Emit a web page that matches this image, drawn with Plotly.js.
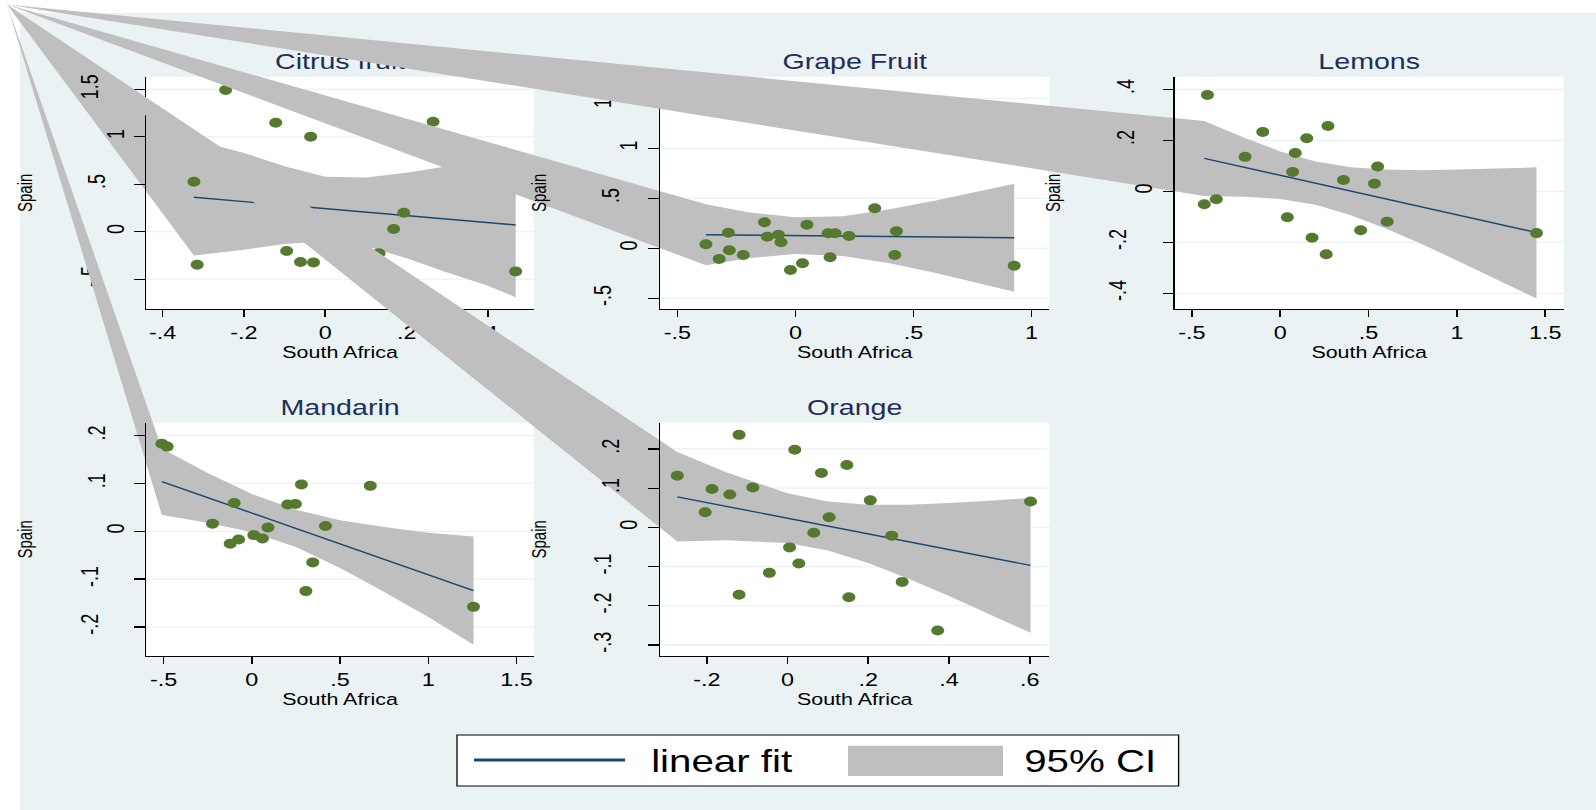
<!DOCTYPE html>
<html>
<head>
<meta charset="utf-8">
<script src="https://cdn.plot.ly/plotly-3.0.1.min.js"></script>
<style>
html,body{margin:0;padding:0;background:#ffffff;overflow:hidden;}
#wrap{width:1596px;height:810px;overflow:hidden;}
#chart{width:1228px;height:810px;transform:scaleX(1.2996743);transform-origin:0 0;}
</style>
</head>
<body>
<div id="wrap"><div id="chart"></div></div>
<script>
// ---------------- data ----------------
const panelNames = ['Citrus fruit', 'Grape Fruit', 'Lemons', 'Mandarin', 'Orange'];
const xTitle = 'South Africa';
const yTitle = 'Spain';
const legendLabels = ['linear fit', '95% CI'];

// Citrus fruit
const citrusX = [-0.245, -0.122, -0.036, 0.265, -0.323, 0.193, 0.168, -0.095, -0.061, -0.029, -0.315, 0.132, 0.468];
const citrusY = [1.493, 1.148, 1.001, 1.159, 0.527, 0.200, 0.028, -0.203, -0.319, -0.323, -0.347, -0.228, -0.418];
const citrusFitX = [-0.323, 0.468];
const citrusFitY = [0.363, 0.071];
const citrusCiX  = [-0.323, -0.2, -0.1, 0, 0.1, 0.2, 0.3, 0.4, 0.468];
const citrusCiUp = [0.97, 0.83, 0.69, 0.58, 0.57, 0.62, 0.69, 0.77, 0.83];
const citrusCiLo = [-0.25, -0.19, -0.13, -0.10, -0.15, -0.28, -0.43, -0.57, -0.69];
const citrusXTicks = [-0.4, -0.2, 0, 0.2, 0.4];
const citrusYTicks = [-0.5, 0, 0.5, 1, 1.5];

// Grape Fruit
const grapeX = [0.336, -0.131, 0.049, -0.284, -0.119, -0.072, -0.061, 0.139, 0.168, 0.227, 0.428, -0.379, -0.28, -0.221, -0.323, -0.021, 0.03, 0.147, 0.421, 0.927];
const grapeY = [0.40, 0.26, 0.236, 0.156, 0.116, 0.136, 0.06, 0.15, 0.15, 0.123, 0.17, 0.04, -0.02, -0.067, -0.107, -0.217, -0.15, -0.09, -0.067, -0.174];
const grapeFitX = [-0.379, 0.927];
const grapeFitY = [0.136, 0.106];
const grapeCiX  = [-0.379, -0.2, 0, 0.2, 0.4, 0.6, 0.8, 0.927];
const grapeCiUp = [0.44, 0.36, 0.31, 0.32, 0.39, 0.48, 0.58, 0.645];
const grapeCiLo = [-0.17, -0.10, -0.056, -0.077, -0.15, -0.25, -0.36, -0.434];
const grapeXTicks = [-0.5, 0, 0.5, 1];
const grapeYTicks = [-0.5, 0, 0.5, 1, 1.5];

// Lemons
const lemonsX = [-0.412, -0.099, 0.27, 0.15, -0.199, 0.085, 0.07, 0.551, 0.358, 0.533, -0.43, -0.362, 0.04, 0.605, 0.455, 0.18, 0.26, 1.45];
const lemonsY = [0.378, 0.233, 0.256, 0.208, 0.135, 0.15, 0.076, 0.097, 0.044, 0.03, -0.051, -0.031, -0.102, -0.119, -0.153, -0.182, -0.247, -0.164];
const lemonsFitX = [-0.43, 1.45];
const lemonsFitY = [0.129, -0.162];
const lemonsCiX  = [-0.43, -0.2, 0, 0.2, 0.4, 0.6, 0.8, 1.0, 1.2, 1.45];
const lemonsCiUp = [0.276, 0.209, 0.156, 0.117, 0.094, 0.085, 0.083, 0.085, 0.088, 0.094];
const lemonsCiLo = [-0.018, -0.021, -0.030, -0.053, -0.094, -0.147, -0.207, -0.271, -0.336, -0.42];
const lemonsXTicks = [-0.5, 0, 0.5, 1, 1.5];
const lemonsYTicks = [-0.4, -0.2, 0, 0.2, 0.4];

// Mandarin
const mandarinX = [-0.51, -0.48, 0.281, 0.671, -0.1, 0.203, 0.247, -0.223, 0.091, 0.417, 0.011, 0.06, -0.075, -0.123, 0.345, 0.306, 1.256];
const mandarinY = [0.183, 0.177, 0.098, 0.095, 0.059, 0.056, 0.057, 0.016, 0.008, 0.011, -0.008, -0.015, -0.017, -0.026, -0.065, -0.125, -0.158];
const mandarinFitX = [-0.51, 1.256];
const mandarinFitY = [0.104, -0.124];
const mandarinCiX  = [-0.51, -0.25, 0, 0.25, 0.5, 0.75, 1.0, 1.256];
const mandarinCiUp = [0.173, 0.122, 0.078, 0.045, 0.023, 0.009, -0.003, -0.011];
const mandarinCiLo = [0.034, 0.018, -0.002, -0.033, -0.077, -0.127, -0.179, -0.237];
const mandarinXTicks = [-0.5, 0, 0.5, 1, 1.5];
const mandarinYTicks = [-0.2, -0.1, 0, 0.1, 0.2];

// Orange
const orangeX = [-0.12, 0.018, 0.147, 0.084, -0.273, -0.187, -0.086, -0.143, 0.205, 0.602, -0.204, 0.103, 0.065, 0.258, 0.005, 0.028, -0.045, 0.284, -0.12, 0.152, 0.372];
const orangeY = [0.236, 0.198, 0.159, 0.139, 0.132, 0.098, 0.102, 0.084, 0.069, 0.066, 0.0385, 0.026, -0.0135, -0.021, -0.051, -0.092, -0.116, -0.139, -0.172, -0.178, -0.263];
const orangeFitX = [-0.273, 0.602];
const orangeFitY = [0.078, -0.097];
const orangeCiX  = [-0.273, -0.15, 0, 0.1, 0.2, 0.3, 0.4, 0.5, 0.602];
const orangeCiUp = [0.192, 0.140, 0.087, 0.066, 0.058, 0.058, 0.062, 0.068, 0.075];
const orangeCiLo = [-0.036, -0.033, -0.040, -0.059, -0.091, -0.131, -0.175, -0.221, -0.269];
const orangeXTicks = [-0.2, 0, 0.2, 0.4, 0.6];
const orangeYTicks = [-0.3, -0.2, -0.1, 0, 0.1, 0.2];

// ---------------- styling / layout constants ----------------
const FONT = '"Liberation Sans", Arial, Helvetica, sans-serif';
const NAVY = '#1a476f';
const GREEN = '#557a2f';
const CIGREY = '#bfbfbf';
const BLUISH = '#eaf2f3';
const TITLECOL = '#1f2d5a';
const FW = 1596, FH = 810;           // final (stretched) picture size
const px = v => v / FW, py = v => 1 - v / FH;

// stray polygon vertex of the CI areas (top-left corner of the picture)
const strayVertex = [px(7), py(4.5)];

// plot-region geometry of each panel (paper fractions) and axis ranges
const colDom = [[px(146.4), px(533.8)], [px(660.2), px(1049.3)], [px(1174.7), px(1563.7)]];
const rowDom = [[py(309), py(76.7)], [py(656), py(422.7)]];
const geo = [
  {xd: colDom[0], yd: rowDom[0], xr: [-0.4398, 0.5126], yr: [-0.814, 1.633]},
  {xd: colDom[1], yd: rowDom[0], xr: [-0.5729, 1.0758], yr: [-0.607, 1.716]},
  {xd: colDom[2], yd: rowDom[0], xr: [-0.5973, 1.604],  yr: [-0.4616, 0.4494]},
  {xd: colDom[0], yd: rowDom[1], xr: [-0.5975, 1.5975], yr: [-0.2607, 0.227]},
  {xd: colDom[1], yd: rowDom[1], xr: [-0.3154, 0.6485], yr: [-0.328, 0.267]}
];

const panels = [
  {name: panelNames[0], x: citrusX,   y: citrusY,   fx: citrusFitX,   fy: citrusFitY,   cx: citrusCiX,   cu: citrusCiUp,   cl: citrusCiLo,   xt: citrusXTicks,   yt: citrusYTicks},
  {name: panelNames[1], x: grapeX,    y: grapeY,    fx: grapeFitX,    fy: grapeFitY,    cx: grapeCiX,    cu: grapeCiUp,    cl: grapeCiLo,    xt: grapeXTicks,    yt: grapeYTicks},
  {name: panelNames[2], x: lemonsX,   y: lemonsY,   fx: lemonsFitX,   fy: lemonsFitY,   cx: lemonsCiX,   cu: lemonsCiUp,   cl: lemonsCiLo,   xt: lemonsXTicks,   yt: lemonsYTicks},
  {name: panelNames[3], x: mandarinX, y: mandarinY, fx: mandarinFitX, fy: mandarinFitY, cx: mandarinCiX, cu: mandarinCiUp, cl: mandarinCiLo, xt: mandarinXTicks, yt: mandarinYTicks},
  {name: panelNames[4], x: orangeX,   y: orangeY,   fx: orangeFitX,   fy: orangeFitY,   cx: orangeCiX,   cu: orangeCiUp,   cl: orangeCiLo,   xt: orangeXTicks,   yt: orangeYTicks}
];

// Stata-like tick label format: ".5", "-.4", "0", "1.5"
function fmt(v) {
  if (Math.abs(v) < 1e-9) return '0';
  let s = String(Math.round(v * 100) / 100);
  return s.replace(/^0\./, '.').replace(/^-0\./, '-.');
}
// Stata places rotated y labels at a distance depending on their length
function labelGroup(t) {
  if (t.indexOf('.') < 0) return 0;
  if (t.charAt(0) === '.') return 1;
  return 2;
}
const yLabelStandoff = [13, 27, 33];

// full-page axis range that maps the panel range onto its domain
function fullRange(r, d) {
  const span = (r[1] - r[0]) / (d[1] - d[0]);
  const r0 = r[0] - d[0] * span;
  return [r0, r0 + span];
}

const data = [];
const layout = {
  width: 1228, height: 810,
  margin: {l: 0, r: 0, t: 0, b: 0, pad: 0},
  paper_bgcolor: BLUISH,
  plot_bgcolor: 'rgba(0,0,0,0)',
  showlegend: false,
  hovermode: false,
  font: {family: FONT, color: '#000'},
  shapes: [
    {type: 'rect', xref: 'paper', yref: 'paper', x0: 0, x1: px(20), y0: 0, y1: 1, fillcolor: '#ffffff', line: {width: 0}, layer: 'below'},
    {type: 'rect', xref: 'paper', yref: 'paper', x0: 0, x1: 1, y0: py(13), y1: 1, fillcolor: '#ffffff', line: {width: 0}, layer: 'below'}
  ],
  annotations: []
};

function ghost(xa, ya, g) {
  return {type: 'scatter', mode: 'markers', xaxis: xa, yaxis: ya, x: [g.xr[0]], y: [g.yr[0]],
          marker: {size: 1, color: 'rgba(0,0,0,0)'}, hoverinfo: 'skip'};
}

panels.forEach((p, i) => {
  const g = geo[i];
  const tn = 2 * i + 1, fn = 2 * i + 2, hn = 11 + i;
  const tx = tn === 1 ? 'x' : 'x' + tn, ty = tn === 1 ? 'y' : 'y' + tn;
  const tk = tn === 1 ? '' : String(tn);
  const fx = 'x' + fn, fy = 'y' + fn, hx = 'x' + hn;
  const XR = fullRange(g.xr, g.xd), YR = fullRange(g.yr, g.yd);

  // full-page data axes carrying the marks (same scale as the panel axes)
  layout['xaxis' + tk] = {domain: [0, 1], range: XR, visible: false, fixedrange: true, anchor: ty};
  layout['yaxis' + tk] = {domain: [0, 1], range: YR, visible: false, fixedrange: true, anchor: tx};

  // white plot region + horizontal grid lines
  layout.shapes.push({type: 'rect', xref: tx, yref: ty, x0: g.xr[0], x1: g.xr[1], y0: g.yr[0], y1: g.yr[1],
                      fillcolor: '#ffffff', line: {width: 0}, layer: 'below'});
  p.yt.forEach(v => layout.shapes.push({type: 'line', xref: tx, yref: ty, x0: g.xr[0], x1: g.xr[1], y0: v, y1: v,
                      line: {color: BLUISH, width: 1.3}, layer: 'below'}));

  // CI area (with its stray first vertex), fit line, scatter
  const sx = XR[0] + strayVertex[0] * (XR[1] - XR[0]);
  const sy = YR[0] + strayVertex[1] * (YR[1] - YR[0]);
  data.push({type: 'scatter', mode: 'lines', xaxis: tx, yaxis: ty,
             x: [sx].concat(p.cx, p.cx.slice().reverse(), [sx]),
             y: [sy].concat(p.cu, p.cl.slice().reverse(), [sy]),
             fill: 'toself', fillcolor: CIGREY, line: {width: 0, color: CIGREY}, name: legendLabels[1]});
  data.push({type: 'scatter', mode: 'lines', xaxis: tx, yaxis: ty, x: p.fx, y: p.fy,
             line: {color: NAVY, width: 1.4}, name: legendLabels[0]});
  data.push({type: 'scatter', mode: 'markers', xaxis: tx, yaxis: ty, x: p.x, y: p.y,
             marker: {color: GREEN, size: 10, line: {width: 0}}, name: p.name});

  // panel axes (drawn after the marks of the panel)
  layout['xaxis' + fn] = {domain: g.xd, range: g.xr, anchor: fy, fixedrange: true,
    showgrid: false, zeroline: false, showline: true, linecolor: '#000', linewidth: 1.3,
    ticks: 'outside', ticklen: 7, tickwidth: 1.3, tickcolor: '#000',
    tickmode: 'array', tickvals: p.xt, ticktext: p.xt.map(fmt), tickfont: {size: 18, color: '#000'},
    ticklabelstandoff: 0.5,
    title: {text: xTitle, font: {size: 16.5, color: '#000'}, standoff: 0}};
  layout['yaxis' + fn] = {domain: g.yd, range: g.yr, anchor: fx, fixedrange: true,
    showgrid: false, zeroline: false, showline: true, linecolor: '#000', linewidth: 1.3,
    ticks: 'outside', ticklen: 8, tickwidth: 1.3, tickcolor: '#000',
    tickmode: 'array', tickvals: p.yt, showticklabels: false,
    title: {text: yTitle, font: {size: 15, color: '#000'}, standoff: 74}};
  data.push(ghost(fx, fy, g));

  // y tick labels, split by length like Stata does
  [0, 1, 2].forEach(k => {
    const vals = p.yt.filter(v => labelGroup(fmt(v)) === k);
    if (!vals.length) return;
    const yn = 21 + 3 * i + k;
    layout['yaxis' + yn] = {overlaying: fy, side: 'left', anchor: fx, range: g.yr, fixedrange: true,
      showgrid: false, zeroline: false, showline: false, ticks: '', tickangle: -90,
      tickmode: 'array', tickvals: vals, ticktext: vals.map(fmt), tickfont: {size: 18, color: '#000'},
      ticklabelstandoff: yLabelStandoff[k]};
    data.push(ghost(fx, 'y' + yn, g));
  });

  // panel title carried by an overlaying top axis so later panels can cover it
  layout['xaxis' + hn] = {overlaying: fx, anchor: fy, side: 'top', range: g.xr, fixedrange: true,
    showgrid: false, zeroline: false, showline: false, ticks: '',
    tickmode: 'array', tickvals: [(g.xr[0] + g.xr[1]) / 2], ticktext: [p.name],
    tickfont: {size: 22, color: TITLECOL}, ticklabelstandoff: 2};
  data.push(ghost(hx, fy, g));
});

// legend (Stata style box)
layout.shapes.push(
  {type: 'rect', xref: 'paper', yref: 'paper', x0: px(457), x1: px(1178.6), y0: py(786), y1: py(735),
   fillcolor: '#ffffff', line: {color: '#000', width: 1}, layer: 'above'},
  {type: 'line', xref: 'paper', yref: 'paper', x0: px(474), x1: px(625), y0: py(760), y1: py(760),
   line: {color: NAVY, width: 3}, layer: 'above'},
  {type: 'rect', xref: 'paper', yref: 'paper', x0: px(848), x1: px(1003), y0: py(776), y1: py(745.7),
   fillcolor: CIGREY, line: {width: 0}, layer: 'above'}
);
layout.annotations.push(
  {xref: 'paper', yref: 'paper', x: px(648), y: py(761), xanchor: 'left', yanchor: 'middle', showarrow: false,
   text: legendLabels[0], font: {size: 31, color: '#000', family: FONT}},
  {xref: 'paper', yref: 'paper', x: px(1022), y: py(761), xanchor: 'left', yanchor: 'middle', showarrow: false,
   text: legendLabels[1], font: {size: 31, color: '#000', family: FONT}}
);

Plotly.newPlot('chart', data, layout, {staticPlot: true, displayModeBar: false});
</script>
</body>
</html>
